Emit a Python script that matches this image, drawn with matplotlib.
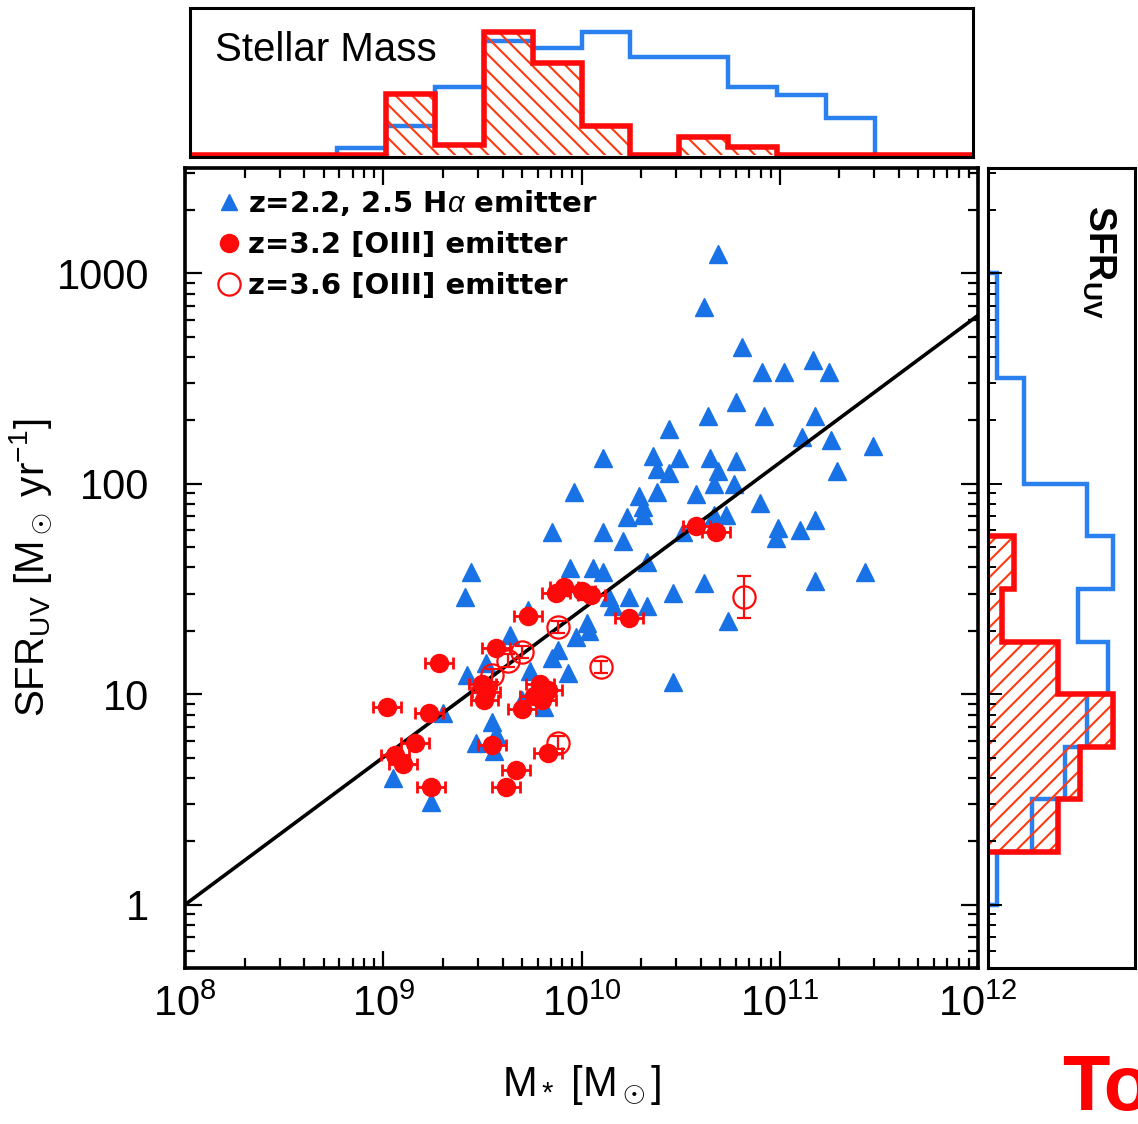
import matplotlib
matplotlib.use("Agg")
import matplotlib.pyplot as plt
import matplotlib.ticker as mticker
from matplotlib.lines import Line2D
import numpy as np

plt.rcParams['font.family'] = ['Liberation Sans', 'DejaVu Sans']
plt.rcParams['mathtext.fontset'] = 'custom'
plt.rcParams['mathtext.rm'] = 'Liberation Sans'
plt.rcParams['mathtext.it'] = 'Liberation Sans:italic'
plt.rcParams['mathtext.bf'] = 'Liberation Sans:bold'
plt.rcParams['hatch.linewidth'] = 1.5

# ---- data (log10 stellar mass, log10 SFR_UV) ----
blue_logm = [10.69, 10.62, 10.81, 10.91, 11.02, 11.17, 11.25, 10.78, 10.64, 10.92,
             11.18, 10.44, 11.11, 11.26, 11.47, 10.11, 10.36, 10.49, 10.65, 10.78,
             10.38, 10.44, 10.69, 10.67, 10.77, 11.29, 10.29, 10.38, 10.58, 10.90,
             10.31, 10.23, 10.31, 10.67, 10.73, 10.11, 10.21, 10.51, 10.99, 10.98,
             11.10, 11.18, 10.33, 10.11, 10.62, 11.18, 11.43, 10.46, 10.14, 10.24,
             10.33, 9.96, 9.85, 9.94, 10.06, 9.44, 9.41, 10.16, 10.03, 10.04,
             9.73, 9.97, 9.64, 9.88, 9.85, 9.93, 9.42, 9.52, 9.50, 9.74,
             10.46, 9.81, 9.70, 9.30, 9.55, 9.57, 9.47, 9.56, 9.05, 9.24, 10.74]
blue_logsfr = [3.09, 2.84, 2.65, 2.53, 2.53, 2.59, 2.53, 2.39, 2.32, 2.32,
               2.32, 2.26, 2.22, 2.21, 2.18, 2.12, 2.13, 2.12, 2.12, 2.11,
               2.07, 2.05, 2.06, 2.00, 2.00, 2.06, 1.94, 1.96, 1.95, 1.91,
               1.89, 1.84, 1.85, 1.85, 1.85, 1.77, 1.73, 1.77, 1.79, 1.74,
               1.78, 1.83, 1.63, 1.58, 1.53, 1.54, 1.58, 1.48, 1.46, 1.46,
               1.42, 1.96, 1.77, 1.60, 1.60, 1.58, 1.46, 1.42, 1.34, 1.30,
               1.40, 1.27, 1.28, 1.21, 1.17, 1.10, 1.09, 1.15, 1.05, 1.11,
               1.06, 0.94, 0.97, 0.91, 0.87, 0.81, 0.77, 0.73, 0.60, 0.49, 1.35]

red_logm = [10.58, 10.68, 9.87, 9.91, 10.00, 10.05, 10.24, 9.73, 9.57, 9.28,
            9.50, 9.52, 9.51, 9.79, 9.83, 9.76, 9.70, 9.80, 9.02, 9.23,
            9.16, 9.06, 9.10, 9.55, 9.83, 9.67, 9.62, 9.24]
red_logsfr = [1.80, 1.77, 1.48, 1.51, 1.49, 1.47, 1.36, 1.37, 1.22, 1.15,
              1.05, 1.01, 0.97, 1.05, 1.02, 0.99, 0.93, 0.97, 0.94, 0.91,
              0.77, 0.71, 0.67, 0.76, 0.72, 0.64, 0.56, 0.56]
red_xerr_dex = [0.07] * len(red_logm)

open_logm = [9.88, 9.70, 9.63, 9.55, 10.10, 9.88, 10.82]
open_logsfr = [1.32, 1.20, 1.16, 1.09, 1.13, 0.77, 1.46]
open_yerr_dex = [0.03, 0.03, 0.03, 0.03, 0.03, 0.03, 0.10]

# main sequence line: log SFR = slope * (log M - 8) + log(SFR at 1e8)
fit_slope = 0.70
fit_logsfr_at_8 = 0.0

# histograms (peak normalised)
mass_edges = [8.75, 9.0, 9.25, 9.5, 9.75, 10.0, 10.25, 10.5, 10.75, 11.0, 11.25, 11.5]
mass_hist_blue = [0.06, 0.24, 0.55, 0.93, 0.87, 1.0, 0.80, 0.80, 0.55, 0.49, 0.30]
mass_edges_red = [8.0, 9.0, 9.25, 9.5, 9.75, 10.0, 10.25, 10.5, 10.75, 11.0, 12.0]
mass_hist_red = [0.0, 0.50, 0.08, 1.0, 0.75, 0.24, 0.0, 0.15, 0.07, 0.0]

sfr_edges = [0.0, 0.25, 0.5, 0.75, 1.0, 1.25, 1.5, 1.75, 2.0, 2.25, 2.5, 2.75, 3.0]
sfr_hist_blue = [0.06, 0.34, 0.61, 0.79, 0.96, 0.72, 1.0, 0.79, 0.28, 0.28, 0.06, 0.06]
sfr_edges_red = [0.25, 0.5, 0.75, 1.0, 1.25, 1.5, 1.75]
sfr_hist_red = [0.55, 0.73, 1.0, 0.55, 0.10, 0.20]

BLUE = '#1872e6'
HBLUE = '#2a80ee'
RED = '#ff0a0a'
HATCH = '#ff3a10'

fig = plt.figure(figsize=(11.38, 11.24), dpi=100)
ax = fig.add_axes([0.1626, 0.1388, 0.6968, 0.7117])
axt = fig.add_axes([0.1670, 0.8603, 0.6880, 0.1326])
axr = fig.add_axes([0.8682, 0.1388, 0.1292, 0.7117])

# ---- main panel ----
ax.set_xscale('log')
ax.set_yscale('log')
ax.set_xlim(1e8, 1e12)
ax.set_ylim(0.5, 10**3.5)

ax.plot(10**np.array(blue_logm), 10**np.array(blue_logsfr), '^', color=BLUE,
        ms=12.5, mec=BLUE, ls='none', zorder=2)

xl = np.array([8.0, 12.0])
ax.plot(10**xl, 10**(fit_slope * (xl - 8) + fit_logsfr_at_8), color='black', lw=2.6, zorder=3)

rm = 10**np.array(red_logm)
rd = 10**np.array(red_xerr_dex)
ax.errorbar(rm, 10**np.array(red_logsfr), xerr=[rm - rm / rd, rm * rd - rm], fmt='o',
            color=RED, ms=13, elinewidth=2, capsize=4, capthick=2, zorder=4)

om = 10**np.array(open_logm)
osf = 10**np.array(open_logsfr)
oe = 10**np.array(open_yerr_dex)
ax.errorbar(om, osf, yerr=[osf - osf / oe, osf * oe - osf], fmt='o', mfc='none',
            mec=RED, color=RED, ms=16, mew=1.6, elinewidth=1.6, capsize=5, capthick=1.6, zorder=4)

for s in ax.spines.values():
    s.set_linewidth(2.6)
ax.tick_params(which='both', direction='in', top=True, right=True, width=1.6, labelsize=30)
ax.tick_params(which='major', length=12)
ax.tick_params(which='minor', length=7)
ax.tick_params(axis='y', pad=26)
ax.tick_params(axis='x', pad=12)
ax.xaxis.set_major_locator(mticker.LogLocator(base=10, numticks=10))
ax.xaxis.set_minor_locator(mticker.LogLocator(base=10, subs=np.arange(2, 10), numticks=20))
ax.yaxis.set_major_locator(mticker.FixedLocator([1, 10, 100, 1000]))
ax.yaxis.set_minor_locator(mticker.LogLocator(base=10, subs=np.arange(2, 10), numticks=20))
ax.yaxis.set_major_formatter(mticker.FuncFormatter(lambda v, p: f'{v:g}'))
ax.yaxis.set_minor_formatter(mticker.NullFormatter())

ax.set_xlabel(r'M$_*$ [M$_\odot$]', fontsize=30, labelpad=28)
ax.set_ylabel(r'SFR$_{\rm UV}$ [M$_\odot$ yr$^{-1}$]', fontsize=29, labelpad=2)

handles = [
    Line2D([], [], marker='^', color=BLUE, ls='none', ms=12),
    Line2D([], [], marker='o', color=RED, ls='none', ms=13),
    Line2D([], [], marker='o', mfc='none', mec=RED, mew=1.6, ls='none', ms=16),
]
labels = [r'z=2.2, 2.5 H$\alpha$ emitter', 'z=3.2 [OIII] emitter', 'z=3.6 [OIII] emitter']
ax.legend(handles, labels, loc='upper left', bbox_to_anchor=(0.02, 0.997), frameon=False,
          prop={'family': 'DejaVu Sans', 'size': 21, 'weight': 'bold'}, handlelength=0.7,
          handletextpad=0.3, labelspacing=0.45, borderaxespad=0.2)

# ---- top histogram: stellar mass ----
axt.stairs(mass_hist_blue, mass_edges, color=HBLUE, lw=3.2, baseline=0)
me = np.array(mass_edges_red)
axt.bar(me[:-1], mass_hist_red, width=np.diff(me), align='edge', fill=False,
        hatch='\\\\', edgecolor=HATCH, linewidth=0)
axt.stairs(mass_hist_red, mass_edges_red, color=RED, lw=4, baseline=0)
axt.set_xlim(8, 12)
axt.set_ylim(-0.015, 1.195)
axt.set_xticks([])
axt.set_yticks([])
for s in axt.spines.values():
    s.set_linewidth(2.2)
axt.text(0.032, 0.72, 'Stellar Mass', transform=axt.transAxes, fontsize=29,
         va='center', ha='left')

# ---- right histogram: SFR ----
axr.set_yscale('log')
axr.set_ylim(0.5, 10**3.5)
axr.set_xlim(-0.015, 1.18)
se = 10**np.array(sfr_edges)
axr.stairs(sfr_hist_blue, se, orientation='horizontal', color=HBLUE, lw=3.2, baseline=0)
ser = 10**np.array(sfr_edges_red)
axr.barh(ser[:-1], sfr_hist_red, height=np.diff(ser), align='edge', fill=False,
         hatch='//', edgecolor=HATCH, linewidth=0)
axr.stairs(sfr_hist_red, ser, orientation='horizontal', color=RED, lw=4, baseline=0)
axr.set_xticks([])
axr.yaxis.set_major_locator(mticker.FixedLocator([1, 10, 100, 1000]))
axr.yaxis.set_minor_locator(mticker.LogLocator(base=10, subs=np.arange(2, 10), numticks=20))
axr.tick_params(which='both', direction='in', labelleft=False, width=1.4)
axr.tick_params(which='major', length=10)
axr.tick_params(which='minor', length=6)
for s in axr.spines.values():
    s.set_linewidth(2.2)
axr.text(0.75, 0.8825, r'$\mathbf{SFR_{UV}}$', transform=axr.transAxes, fontsize=27,
         rotation=-90, ha='center', va='center')

# word cut by the right edge, as in the source image
fig.text(0.933, 0.0125, 'To', fontsize=56, fontweight='bold', color='#ff0000',
         ha='left', va='baseline')

fig.savefig('out.png', dpi=100)
